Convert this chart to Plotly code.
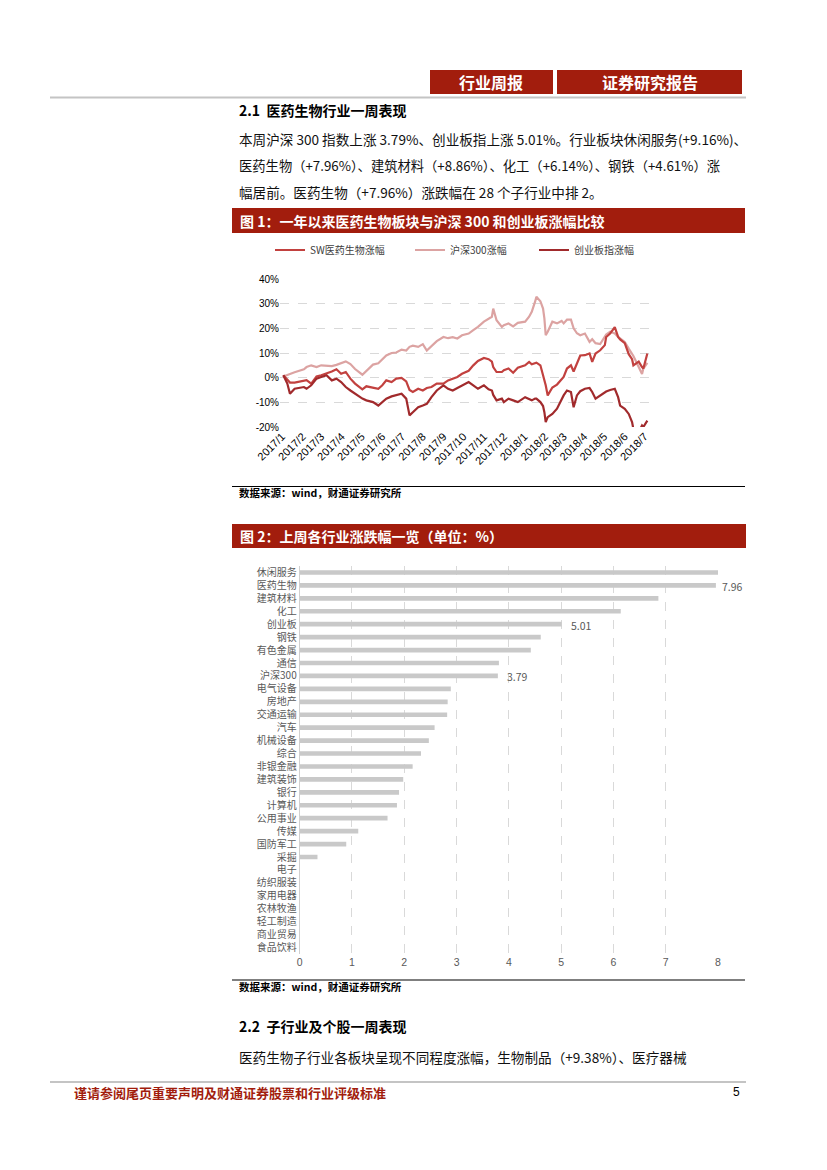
import plotly.graph_objects as go

W, H = 827, 1170

# ---------------- data: chart 1 (cumulative change, %) ----------------
DATES = [
    "2017-01-03", "2017-01-09", "2017-01-13", "2017-01-20", "2017-02-03", "2017-02-07", "2017-02-14", "2017-02-22", "2017-03-01", "2017-03-09",
    "2017-03-17", "2017-03-24", "2017-03-31", "2017-04-07", "2017-04-14", "2017-04-21", "2017-05-02", "2017-05-08", "2017-05-18", "2017-05-26",
    "2017-06-01", "2017-06-07", "2017-06-15", "2017-06-22", "2017-06-30", "2017-07-07", "2017-07-12", "2017-07-17", "2017-07-25", "2017-08-01",
    "2017-08-07", "2017-08-14", "2017-08-22", "2017-09-01", "2017-09-08", "2017-09-15", "2017-09-22", "2017-09-29", "2017-10-09", "2017-10-16",
    "2017-10-23", "2017-11-01", "2017-11-08", "2017-11-13", "2017-11-15", "2017-11-20", "2017-11-28", "2017-12-01", "2017-12-08", "2017-12-15",
    "2017-12-22", "2018-01-02", "2018-01-08", "2018-01-12", "2018-01-17", "2018-01-19", "2018-01-25", "2018-01-29", "2018-01-31", "2018-02-02",
    "2018-02-05", "2018-02-12", "2018-02-19", "2018-02-26", "2018-03-01", "2018-03-06", "2018-03-12", "2018-03-16", "2018-03-21", "2018-03-26",
    "2018-04-02", "2018-04-09", "2018-04-13", "2018-04-18", "2018-04-25", "2018-05-02", "2018-05-04", "2018-05-10", "2018-05-17", "2018-05-22",
    "2018-05-25", "2018-06-01", "2018-06-07", "2018-06-12", "2018-06-14", "2018-06-22", "2018-06-27", "2018-06-29", "2018-07-05",
]
SW_PHARMA = [
    1.0, -1.0, -2.0, -2.0, -1.1, -1.0, -2.4, 0.5, 1.0, 1.6,
    2.5, 3.4, 1.6, 2.3, -0.4, -2.4, -4.7, -3.5, -4.2, -4.5,
    -3.1, -1.1, -1.8, -0.4, -0.1, -1.5, -5.0, -5.8, -4.5, -5.2,
    -4.2, -3.8, -2.4, -2.4, -1.1, -0.4, 0.3, 1.6, 2.8, 5.0,
    6.8, 8.0, 7.5, 6.5, 4.3, 2.3, 2.3, 3.0, 3.7, 2.0,
    4.0, 5.0, 6.4, 5.4, 6.0, 6.1, 5.0, 1.0, -2.0, -3.1,
    -7.2, -4.0, -2.8, -0.5, 0.3, 3.7, 5.0, 2.5, 6.0, 9.0,
    9.1, 9.8, 6.4, 9.8, 11.1, 13.2, 16.5, 17.9, 20.5, 16.5,
    15.5, 14.0, 9.5, 7.5, 5.0, 6.5, 4.3, 3.7, 9.8,
]
HS300 = [
    0.5, 1.0, 1.5, 2.2, 3.4, 4.3, 5.0, 4.3, 5.0, 4.8,
    4.7, 5.2, 6.0, 6.6, 5.5, 3.5, 1.2, 2.8, 5.3, 5.8,
    7.5, 9.0, 10.0, 10.2, 11.4, 11.0, 12.5, 13.0, 12.5, 13.6,
    11.0, 12.8, 14.8, 16.5, 16.0, 16.4, 15.9, 17.2, 17.9, 19.3,
    20.6, 22.7, 24.0, 24.7, 28.0, 23.3, 20.6, 21.3, 22.0, 20.8,
    22.2, 22.7, 24.7, 26.7, 30.8, 32.8, 31.0, 28.0, 24.0, 17.2,
    18.6, 22.7, 22.0, 23.0, 22.0, 23.5, 23.5, 20.0, 18.0, 17.2,
    17.9, 14.5, 15.6, 14.0, 13.6, 16.5, 17.5, 18.6, 17.9, 16.5,
    15.9, 14.5, 11.8, 9.5, 8.8, 4.3, 1.5, 3.7, 6.0,
]
CHINEXT = [
    1.0, -2.4, -6.5, -4.5, -3.8, -4.5, -3.1, -0.4, 0.3, 1.0,
    -1.1, -0.4, -1.8, -3.8, -5.2, -6.5, -8.5, -9.2, -9.9, -11.3,
    -9.9, -8.5, -7.6, -7.2, -6.5, -8.5, -15.3, -14.0, -12.0, -11.3,
    -10.6, -7.9, -5.2, -3.1, -4.5, -5.2, -4.2, -3.4, -1.8, -3.1,
    -4.5, -3.1, -4.7, -5.2, -7.0, -9.2, -8.5, -9.9, -8.5, -9.2,
    -9.9, -7.9, -8.5, -9.2, -8.5, -8.5, -9.9, -11.5, -14.0, -18.0,
    -16.0, -14.7, -12.6, -8.5, -7.2, -5.2, -5.8, -12.0, -7.2, -5.5,
    -4.5, -4.2, -5.8, -8.5, -7.2, -5.8, -5.6, -5.0, -4.5, -7.9,
    -11.3, -12.6, -14.7, -18.0, -20.8, -22.0, -19.4, -20.0, -17.4,
]
SERIES_NAMES = ["SW医药生物涨幅", "沪深300涨幅", "创业板指涨幅"]
MONTH_TICKS = [
    "2017-01-01", "2017-02-01", "2017-03-01", "2017-04-01", "2017-05-01", "2017-06-01", "2017-07-01",
    "2017-08-01", "2017-09-01", "2017-10-01", "2017-11-01", "2017-12-01", "2018-01-01", "2018-02-01",
    "2018-03-01", "2018-04-01", "2018-05-01", "2018-06-01", "2018-07-01",
]
MONTH_LABELS = [
    "2017/1", "2017/2", "2017/3", "2017/4", "2017/5", "2017/6", "2017/7", "2017/8", "2017/9", "2017/10",
    "2017/11", "2017/12", "2018/1", "2018/2", "2018/3", "2018/4", "2018/5", "2018/6", "2018/7",
]
PCT_TICKS = [-20, -10, 0, 10, 20, 30, 40]
PCT_LABELS = ["-20%", "-10%", "0%", "10%", "20%", "30%", "40%"]

# ---------------- data: chart 2 (weekly change by industry, %) ----------------
INDUSTRIES = [
    "休闲服务", "医药生物", "建筑材料", "化工", "创业板", "钢铁", "有色金属", "通信", "沪深300", "电气设备",
    "房地产", "交通运输", "汽车", "机械设备", "综合", "非银金融", "建筑装饰", "银行", "计算机", "公用事业",
    "传媒", "国防军工", "采掘", "电子", "纺织服装", "家用电器", "农林牧渔", "轻工制造", "商业贸易", "食品饮料",
]
WEEK_CHANGE = [
    9.16, 7.96, 6.86, 6.14, 5.01, 4.61, 4.42, 3.81, 3.79, 2.89,
    2.83, 2.82, 2.58, 2.47, 2.32, 2.16, 1.98, 1.90, 1.86, 1.68,
    1.12, 0.89, 0.34, 0.0, 0.0, 0.0, 0.0, 0.0, 0.0, 0.0,
]
LABELED = ["医药生物", "创业板", "沪深300"]
BAR_TICKS = [0, 1, 2, 3, 4, 5, 6, 7, 8]

# ---------------- styling ----------------
RED = "#a21d0d"
CJK = "Noto Sans CJK SC"
LAT = "Liberation Sans"
LINE_COLORS = ["#c2413f", "#dca3a2", "#a12a2c"]


def fx(px):
    return px / W


def fy(py):
    return 1 - py / H


fig = go.Figure()

# chart 1 lines (pink drawn first so the red lines sit on top)
order = [1, 0, 2]
series = [SW_PHARMA, HS300, CHINEXT]
legend_ids = ["legend", "legend2", "legend3"]
for i in order:
    fig.add_trace(go.Scatter(
        x=DATES, y=series[i], name=SERIES_NAMES[i], mode="lines",
        line=dict(color=LINE_COLORS[i], width=2.2),
        xaxis="x", yaxis="y", legend=legend_ids[i],
    ))

# chart 2 bars
fig.add_trace(go.Bar(
    x=WEEK_CHANGE, y=INDUSTRIES, orientation="h",
    marker=dict(color="#c9c9c9", line=dict(width=0)),
    width=0.36, xaxis="x2", yaxis="y2", showlegend=False,
))

annotations = []
for name, v in zip(INDUSTRIES, WEEK_CHANGE):
    if name in LABELED:
        annotations.append(dict(
            x=min(v, 7.9), y=name, xref="x2", yref="y2", text=f"{v:.2f}", showarrow=False,
            xanchor="left", yanchor="middle", xshift=7, yshift=-1,
            font=dict(family=CJK, size=10.5, color="#595959"),
        ))

shapes = []
# header boxes
shapes.append(dict(type="rect", xref="paper", yref="paper", x0=fx(430), x1=fx(553), y0=fy(94), y1=fy(70),
                   fillcolor=RED, line=dict(width=0)))
shapes.append(dict(type="rect", xref="paper", yref="paper", x0=fx(557), x1=fx(742), y0=fy(94), y1=fy(70),
                   fillcolor=RED, line=dict(width=0)))
shapes.append(dict(type="line", xref="paper", yref="paper", x0=fx(50), x1=fx(746), y0=fy(97.5), y1=fy(97.5),
                   line=dict(color="#c4c4c4", width=2)))
# chart title bars
shapes.append(dict(type="rect", xref="paper", yref="paper", x0=fx(232), x1=fx(745), y0=fy(233), y1=fy(208),
                   fillcolor=RED, line=dict(width=0)))
shapes.append(dict(type="rect", xref="paper", yref="paper", x0=fx(232), x1=fx(746), y0=fy(548), y1=fy(524),
                   fillcolor=RED, line=dict(width=0)))
# source rules
shapes.append(dict(type="line", xref="paper", yref="paper", x0=fx(232), x1=fx(745), y0=fy(486.5), y1=fy(486.5),
                   line=dict(color="#000000", width=1.2)))
shapes.append(dict(type="line", xref="paper", yref="paper", x0=fx(232), x1=fx(745), y0=fy(980), y1=fy(980),
                   line=dict(color="#000000", width=1.2)))
# footer rule
shapes.append(dict(type="line", xref="paper", yref="paper", x0=fx(50), x1=fx(746), y0=fy(1082), y1=fy(1082),
                   line=dict(color="#c4c4c4", width=2)))


def text(x, y, s, size, color="#000000", bold=False, anchor="left", family=CJK):
    return dict(x=fx(x), y=fy(y), xref="paper", yref="paper", text=(f"<b>{s}</b>" if bold else s),
                showarrow=False, xanchor=anchor, yanchor="middle",
                font=dict(family=family, size=size, color=color))


annotations += [
    text(491, 82, "行业周报", 16, "#ffffff", True, "center"),
    text(650, 82, "证券研究报告", 16, "#ffffff", True, "center"),
    text(237, 110, "2.1  医药生物行业一周表现", 14, "#000000", True),
    text(237, 139, "本周沪深 300 指数上涨 3.79%、创业板指上涨 5.01%。行业板块休闲服务(+9.16%)、", 13.6, "#111111"),
    text(237, 166, "医药生物（+7.96%）、建筑材料（+8.86%）、化工（+6.14%）、钢铁（+4.61%）涨", 13.3, "#111111"),
    text(237, 192, "幅居前。医药生物（+7.96%）涨跌幅在 28 个子行业中排 2。", 13.6, "#111111"),
    text(238, 221, "图 1：一年以来医药生物板块与沪深 300 和创业板涨幅比较", 14, "#ffffff", True),
    text(237, 492, "数据来源：wind，财通证券研究所", 10.5, "#000000", True),
    text(238, 536, "图 2：上周各行业涨跌幅一览（单位：%）", 14, "#ffffff", True),
    text(237, 986, "数据来源：wind，财通证券研究所", 10.5, "#000000", True),
    text(237, 1026, "2.2  子行业及个股一周表现", 14, "#000000", True),
    text(237, 1057, "医药生物子行业各板块呈现不同程度涨幅，生物制品（+9.38%）、医疗器械", 13.6, "#111111"),
    text(72, 1092, "谨请参阅尾页重要声明及财通证券股票和行业评级标准", 13, RED, True),
    text(736, 1092, "5", 12, "#000000", False, "center", LAT),
]

legend_common = dict(orientation="h", yanchor="middle", xanchor="left", y=fy(250),
                     bgcolor="rgba(0,0,0,0)", font=dict(family=CJK, size=10, color="#404040"),
                     itemwidth=30, tracegroupgap=0)

grid = dict(showgrid=True, gridcolor="#d9d9d9", gridwidth=1.3, griddash="dash")

fig.update_layout(
    width=W, height=H, margin=dict(l=0, r=0, t=0, b=0, autoexpand=False),
    paper_bgcolor="#ffffff", plot_bgcolor="#ffffff",
    font=dict(family=CJK),
    shapes=shapes, annotations=annotations,
    legend=dict(x=fx(270), **legend_common),
    legend2=dict(x=fx(410), **legend_common),
    legend3=dict(x=fx(534), **legend_common),
    xaxis=dict(domain=[fx(280), fx(650)], anchor="y", type="date", automargin=False,
               range=["2016-12-29", "2018-07-09"],
               tickmode="array", tickvals=MONTH_TICKS, ticktext=MONTH_LABELS,
               tickangle=-45, tickfont=dict(family=LAT, size=11, color="#000000"),
               showgrid=False, zeroline=False, showline=False, ticks=""),
    yaxis=dict(domain=[fy(427), fy(279)], anchor="x", range=[-20, 40], automargin=False,
               tickmode="array", tickvals=PCT_TICKS, ticktext=PCT_LABELS,
               tickfont=dict(family=LAT, size=10, color="#000000"),
               zeroline=False, showline=False, ticks="", **grid),
    xaxis2=dict(domain=[fx(299.7), fx(718)], anchor="y2", range=[0, 8], automargin=False,
                tickmode="array", tickvals=BAR_TICKS,
                tickfont=dict(family=LAT, size=10.5, color="#595959"),
                zeroline=False, showline=False, ticks="", **grid),
    yaxis2=dict(domain=[fy(954), fy(566)], anchor="x2", type="category", automargin=False,
                categoryorder="array", categoryarray=INDUSTRIES, autorange="reversed",
                tickmode="array", tickvals=INDUSTRIES,
                tickfont=dict(family=CJK, size=10, color="#595959"),
                showline=True, linecolor="#d0d0d0", linewidth=1, ticks="", showgrid=False),
    bargap=0.6,
)

fig.write_html("out.html", config={"displayModeBar": False},
               post_script="document.body.style.margin='0px';")
